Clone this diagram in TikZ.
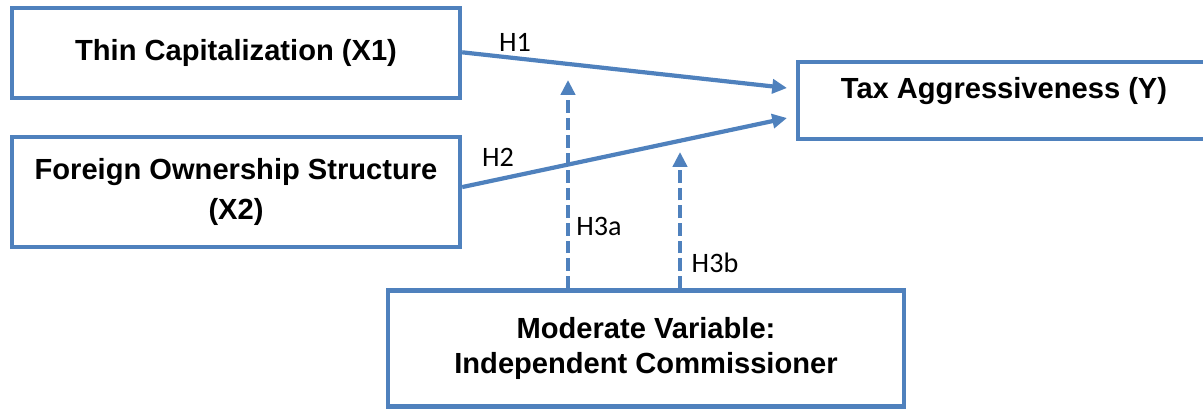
\documentclass[tikz,border=0pt]{standalone}
\usepackage{fontspec}
\setmainfont{Liberation Sans}
\newfontfamily\hypfont{Carlito}
\usetikzlibrary{arrows.meta}

\definecolor{boxblue}{RGB}{79,129,189}

\begin{document}
\begin{tikzpicture}[x=0.025cm, y=-0.025cm,
        varbox/.style={draw=boxblue, line width=3pt, fill=white, align=center,
            inner sep=0pt, font=\fontsize{20.7}{28}\selectfont\bfseries},
        hyparrow/.style={boxblue, line width=3pt,
            -{Triangle[length=10.5pt, width=10pt]}},
        modarrow/.style={hyparrow, line width=2.6pt, dash pattern=on 9pt off 3.5pt},
        hyplabel/.style={inner sep=0pt, font=\hypfont\fontsize{20}{22}\selectfont}]

        \useasboundingbox
            (0,0) rectangle (1203,410);

        % variables
        \node[varbox, minimum width=11.2cm, minimum height=2.25cm]
            (thin) at (236,53) {Thin Capitalization (X1)};

        \node[varbox, minimum width=11.2cm, minimum height=2.75cm]
            (foreign) at (236,192) {Foreign Ownership Structure\\(X2)};

        \node[varbox, minimum width=10.3cm, minimum height=1.925cm,
              text height=15pt, text depth=18pt]
            (tax) at (1004,100.5) {Tax Aggressiveness (Y)};

        \node[varbox, minimum width=12.9cm, minimum height=2.9cm,
              font=\fontsize{20.7}{25}\selectfont\bfseries]
            (moderate) at (646,348.5) {Moderate Variable:\\Independent Commissioner};

        % arrow ends
        \coordinate (taxin1) at (787,88);
        \coordinate (taxin2) at (787,118);
        \coordinate (h3a) at (568,80);
        \coordinate (h3b) at (680,152);

        % direct effects
        \draw[hyparrow]
            ([yshift=0.5pt]thin.east) -- (taxin1);

        \draw[hyparrow]
            ([yshift=3.5pt]foreign.east) -- (taxin2);

        % moderation
        \draw[modarrow]
            (moderate.north -| h3a) -- (h3a);

        \draw[modarrow]
            (moderate.north -| h3b) -- (h3b);

        % labels
        \node[hyplabel] (lh1) at (515,42) {H1};
        \node[hyplabel] (lh2) at (498,157) {H2};
        \node[hyplabel] (lh3a) at (599,226) {H3a};
        \node[hyplabel] (lh3b) at (715,263) {H3b};

\end{tikzpicture}
\end{document}
